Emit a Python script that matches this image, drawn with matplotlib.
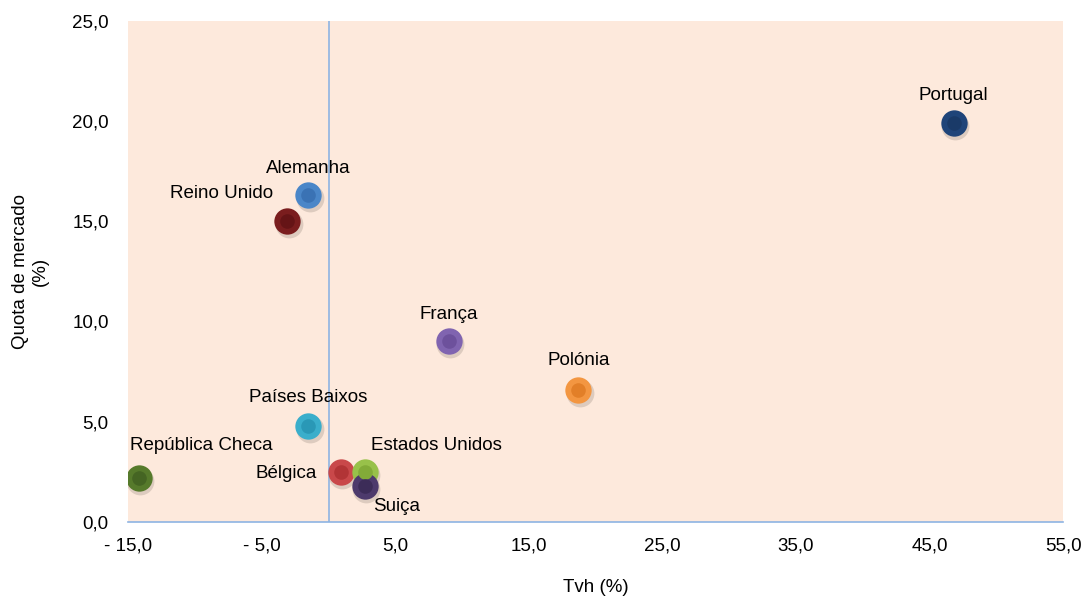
import matplotlib.pyplot as plt
from matplotlib.ticker import FuncFormatter, FixedLocator

plt.rcParams['font.family'] = ['Liberation Sans', 'DejaVu Sans']

paises = ['Portugal', 'Alemanha', 'Reino Unido', 'França', 'Polónia',
          'Países Baixos', 'República Checa', 'Bélgica', 'Estados Unidos', 'Suiça']
tvh = [46.8, -1.5, -3.1, 9.0, 18.7, -1.5, -14.2, 0.9, 2.7, 2.7]
quota = [19.9, 16.3, 15.0, 9.0, 6.6, 4.8, 2.2, 2.5, 2.5, 1.8]
cores = ['#1f4479', '#4a86c8', '#7a1d1e', '#8064b0', '#f39641',
         '#3aaecb', '#567a2b', '#c9484a', '#98c14a', '#4d3a6c']
escuras = ['#1a3a68', '#3a72b4', '#651416', '#6d519c', '#e27f28',
           '#2a98b6', '#456523', '#b23436', '#82ab38', '#3c2c58']
# label offsets (points) and alignment
offsets = [(0, 19.5), (0, 19.5), (-10, 20), (0, 19.5), (0, 21),
           (0, 20), (45, 23.5), (-17, -1), (52, 18.5), (23, -15)]
aligns = ['center', 'center', 'right', 'center', 'center',
          'center', 'center', 'right', 'center', 'center']

fig, ax = plt.subplots(figsize=(10.86, 5.97), dpi=100)
fig.subplots_adjust(left=0.118, right=0.979, top=0.965, bottom=0.126)
ax.set_facecolor('#fde9dc')

ax.axvline(0, color='#8eb4e3', lw=1.2, zorder=1)

for x, y, c, d in zip(tvh, quota, cores, escuras):
    # shadow
    ax.scatter([x + 0.12], [y - 0.15], s=400, color='#b8a89c', alpha=0.45,
               linewidths=0, zorder=2)
    ax.scatter([x], [y], s=360, color=c, linewidths=0, zorder=3)
    ax.scatter([x], [y], s=110, color=d, linewidths=0, zorder=4)

for nome, x, y, off, ha in zip(paises, tvh, quota, offsets, aligns):
    ax.annotate(nome, (x, y), xytext=off, textcoords='offset points',
                ha=ha, va='center', fontsize=13.5, color='black', zorder=5)

ax.set_xlim(-15, 55)
ax.set_ylim(0, 25)
ax.xaxis.set_major_locator(FixedLocator([-15, -5, 5, 15, 25, 35, 45, 55]))
ax.yaxis.set_major_locator(FixedLocator([0, 5, 10, 15, 20, 25]))


def fmt(v, pos):
    s = f"{abs(v):.1f}".replace('.', ',')
    return f"- {s}" if v < 0 else s


ax.xaxis.set_major_formatter(FuncFormatter(fmt))
ax.yaxis.set_major_formatter(FuncFormatter(fmt))
ax.tick_params(length=0, labelsize=13.5, colors='black')
ax.tick_params(axis='x', pad=11)
ax.tick_params(axis='y', pad=14)

for s in ['top', 'right', 'left']:
    ax.spines[s].set_visible(False)
ax.spines['bottom'].set_color('#8eb4e3')
ax.spines['bottom'].set_linewidth(1.2)

ax.set_xlabel('Tvh (%)', fontsize=13.5, labelpad=18)
ax.set_ylabel('Quota de mercado\n(%)', fontsize=13.5, labelpad=17)

fig.savefig('out.png', dpi=100)
